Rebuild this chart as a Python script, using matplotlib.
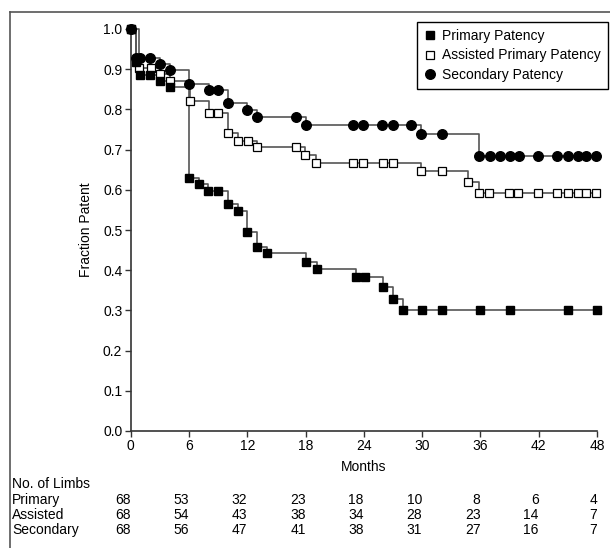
import matplotlib
matplotlib.use("Agg")
import matplotlib.pyplot as plt
from matplotlib.lines import Line2D
from matplotlib.transforms import blended_transform_factory

plt.rcParams['font.family'] = ['Liberation Sans', 'DejaVu Sans']
plt.rcParams['font.size'] = 10

# ---- data ----
primary_months = [0, 0.5, 1, 2, 3, 4, 6, 7, 8, 9, 10, 11, 12, 13, 14, 18, 19.2,
                  23.2, 24.1, 26, 27, 28, 30, 32, 36, 39, 45, 48]
primary_frac = [1.0, 0.919, 0.886, 0.886, 0.871, 0.855, 0.629, 0.614, 0.597, 0.597,
                0.565, 0.548, 0.496, 0.458, 0.442, 0.421, 0.402, 0.382, 0.382, 0.357,
                0.328, 0.300, 0.300, 0.300, 0.300, 0.300, 0.300, 0.300]

assisted_months = [0, 0.9, 2.1, 3, 4, 6.1, 8.1, 9, 10, 11, 12.1, 13, 17, 17.9, 19.1,
                   22.9, 23.9, 26, 27, 29.9, 32, 34.7, 35.9, 36.9, 38.9, 39.9, 41.9,
                   43.9, 45, 46, 46.9, 47.9]
assisted_frac = [1.0, 0.902, 0.902, 0.888, 0.871, 0.821, 0.790, 0.790, 0.741, 0.722,
                 0.722, 0.706, 0.706, 0.687, 0.667, 0.667, 0.667, 0.667, 0.667, 0.648,
                 0.648, 0.620, 0.593, 0.593, 0.593, 0.593, 0.593, 0.593, 0.593, 0.593,
                 0.593, 0.593]

secondary_months = [0, 0.5, 1, 2, 3, 4, 6, 8.1, 9, 10, 12, 13, 17, 18, 22.9, 23.9,
                    25.9, 27, 28.9, 29.9, 32, 35.9, 37, 38, 39, 40, 41.9, 43.9, 45,
                    46, 46.9, 47.9]
secondary_frac = [1.0, 0.928, 0.928, 0.928, 0.914, 0.898, 0.863, 0.848, 0.848, 0.815,
                  0.798, 0.780, 0.780, 0.761, 0.761, 0.761, 0.761, 0.761, 0.761, 0.739,
                  0.739, 0.685, 0.685, 0.685, 0.685, 0.685, 0.685, 0.685, 0.685, 0.685,
                  0.685, 0.685]

tick_months = [0, 6, 12, 18, 24, 30, 36, 42, 48]
risk_labels = ["Primary", "Assisted", "Secondary"]
risk_primary = [68, 53, 32, 23, 18, 10, 8, 6, 4]
risk_assisted = [68, 54, 43, 38, 34, 28, 23, 14, 7]
risk_secondary = [68, 56, 47, 41, 38, 31, 27, 16, 7]

W, H = 610, 548
fig = plt.figure(figsize=(W / 100, H / 100), dpi=100)
ax = fig.add_axes([130.7 / W, 1 - 431 / H, (597 - 130.7) / W, (431 - 29) / H])

line_col = "#555555"
ms = 6.3
ax.plot(secondary_months, secondary_frac, drawstyle="steps-post", color=line_col, lw=1.2,
        zorder=2, clip_on=False)
ax.plot(secondary_months, secondary_frac, "o", color="black", ms=ms + 0.6, ls="none",
        zorder=3, clip_on=False, label="Secondary Patency")
ax.plot(assisted_months, assisted_frac, drawstyle="steps-post", color=line_col, lw=1.2,
        zorder=2, clip_on=False)
ax.plot(assisted_months, assisted_frac, "s", mfc="white", mec="black", mew=0.9, ms=ms,
        ls="none", zorder=4, clip_on=False, label="Assisted Primary Patency")
ax.plot(primary_months, primary_frac, drawstyle="steps-post", color=line_col, lw=1.2,
        zorder=2, clip_on=False)
ax.plot(primary_months, primary_frac, "s", color="black", ms=ms, ls="none",
        zorder=5, clip_on=False, label="Primary Patency")

ax.set_xlim(0, 48)
ax.set_ylim(0, 1.0)
ax.set_xticks(tick_months)
ax.set_yticks([i / 10 for i in range(11)])
ax.set_yticklabels([f"{i / 10:.1f}" for i in range(11)])
ax.spines["top"].set_visible(False)
ax.spines["right"].set_visible(False)
for s in ("left", "bottom"):
    ax.spines[s].set_color("#333333")
    ax.spines[s].set_linewidth(1.2)
ax.tick_params(direction="out", length=4, width=1, colors="#333333", labelcolor="black",
               pad=2)
ax.set_xlabel("Months", labelpad=5)
ax.set_ylabel("Fraction Patent", labelpad=7)

handles = [
    Line2D([], [], marker="s", color="black", ls="none", ms=ms),
    Line2D([], [], marker="s", mfc="white", mec="black", mew=0.9, ls="none", ms=ms),
    Line2D([], [], marker="o", color="black", ls="none", ms=ms + 0.6),
]
fig.legend(handles, ["Primary Patency", "Assisted Primary Patency", "Secondary Patency"],
           loc="upper right", bbox_to_anchor=(608 / W, 1 - 21.7 / H), frameon=True,
           fancybox=False, edgecolor="black", framealpha=1, handlelength=0.8,
           handletextpad=0.5, borderpad=0.5, labelspacing=0.42, borderaxespad=0)

# number-at-risk table
tr = blended_transform_factory(ax.transData, fig.transFigure)
fig.text(12 / W, 1 - 484 / H, "No. of Limbs", va="center", ha="left")
for label, counts, ypix in zip(risk_labels, [risk_primary, risk_assisted, risk_secondary],
                               [500, 515, 530]):
    fig.text(12 / W, 1 - ypix / H, label, va="center", ha="left")
    for m, c in zip(tick_months, counts):
        ax.text(m, 1 - ypix / H, str(c), transform=tr, ha="right", va="center",
                clip_on=False)

# partial frame around the figure (top and left)
frame_col = "#555555"
fig.add_artist(Line2D([10 / W, 1], [1 - 12 / H, 1 - 12 / H], transform=fig.transFigure,
                      color=frame_col, lw=1.2))
fig.add_artist(Line2D([10 / W, 10 / W], [0, 1 - 12 / H], transform=fig.transFigure,
                      color=frame_col, lw=1.2))

fig.savefig("out.png", dpi=100)
